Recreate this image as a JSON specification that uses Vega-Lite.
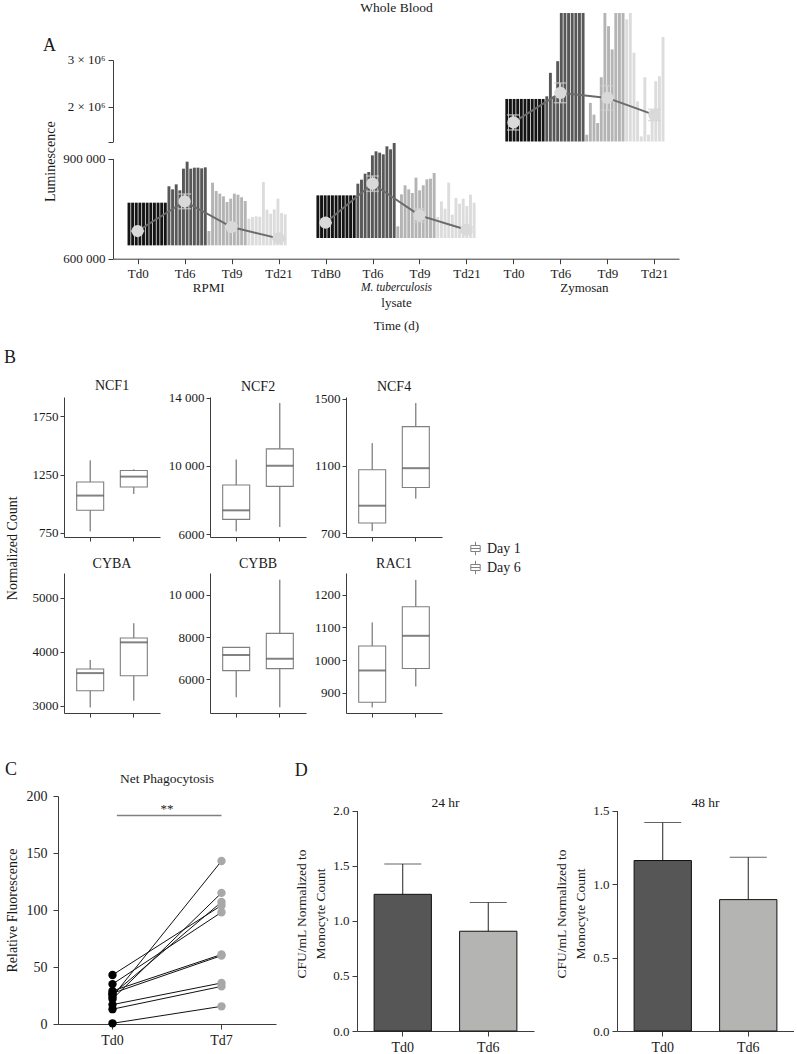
{
"$schema":"https://vega.github.io/schema/vega-lite/v6.json",
"background":"white",
"padding":{"left":4,"top":1,"right":0,"bottom":0},
"config":{
 "font":"Liberation Serif",
 "view":{"stroke":null},
 "axis":{"grid":false,"labelFont":"Liberation Serif","titleFont":"Liberation Serif","labelFontSize":13,"titleFontSize":13.5,"titleFontWeight":"normal","labelColor":"#1a1a1a","titleColor":"#1a1a1a","domainColor":"#3c3c3c","tickColor":"#3c3c3c","labelAngle":0,"tickSize":5,"labelPadding":3,"labelOverlap":false,"labelSeparation":-300},
 "style":{"guide-label":{"font":"Liberation Serif"},"guide-title":{"font":"Liberation Serif"},"group-title":{"font":"Liberation Serif"}},
 "title":{"font":"Liberation Serif","fontWeight":"normal","fontSize":13.5,"color":"#1a1a1a"},
 "legend":{"labelFont":"Liberation Serif","labelFontSize":14,"labelColor":"#1a1a1a"},
 "text":{"font":"Liberation Serif","color":"#1a1a1a"}
},
"resolve":{"scale":{"color":"independent","fill":"independent","stroke":"independent"}},
"datasets":{
 "bars":[
  {"g":"RPMI","t":"Td0","s":"R01","v":768000,"base":640000},{"g":"RPMI","t":"Td0","s":"R02","v":768000,"base":640000},{"g":"RPMI","t":"Td0","s":"R03","v":768000,"base":640000},{"g":"RPMI","t":"Td0","s":"R04","v":768000,"base":640000},{"g":"RPMI","t":"Td0","s":"R05","v":768000,"base":640000},{"g":"RPMI","t":"Td0","s":"R06","v":768000,"base":640000},{"g":"RPMI","t":"Td0","s":"R07","v":768000,"base":640000},{"g":"RPMI","t":"Td0","s":"R08","v":768000,"base":640000},{"g":"RPMI","t":"Td0","s":"R09","v":768000,"base":640000},{"g":"RPMI","t":"Td0","s":"R10","v":768000,"base":640000},{"g":"RPMI","t":"Td0","s":"R11","v":768000,"base":640000},
  {"g":"RPMI","t":"Td6","s":"R12","v":817000,"base":640000},{"g":"RPMI","t":"Td6","s":"R13","v":808000,"base":640000},{"g":"RPMI","t":"Td6","s":"R14","v":823000,"base":640000},{"g":"RPMI","t":"Td6","s":"R15","v":805000,"base":640000},{"g":"RPMI","t":"Td6","s":"R16","v":870000,"base":640000},{"g":"RPMI","t":"Td6","s":"R17","v":891000,"base":640000},{"g":"RPMI","t":"Td6","s":"R18","v":870000,"base":640000},{"g":"RPMI","t":"Td6","s":"R19","v":873000,"base":640000},{"g":"RPMI","t":"Td6","s":"R20","v":873000,"base":640000},{"g":"RPMI","t":"Td6","s":"R21","v":871000,"base":640000},{"g":"RPMI","t":"Td6","s":"R22","v":874000,"base":640000},
  {"g":"RPMI","t":"Td9","s":"R23","v":683000,"base":640000},{"g":"RPMI","t":"Td9","s":"R24","v":828000,"base":640000},{"g":"RPMI","t":"Td9","s":"R25","v":803000,"base":640000},{"g":"RPMI","t":"Td9","s":"R26","v":795000,"base":640000},{"g":"RPMI","t":"Td9","s":"R27","v":787000,"base":640000},{"g":"RPMI","t":"Td9","s":"R28","v":770000,"base":640000},{"g":"RPMI","t":"Td9","s":"R29","v":780000,"base":640000},{"g":"RPMI","t":"Td9","s":"R30","v":795000,"base":640000},{"g":"RPMI","t":"Td9","s":"R31","v":792000,"base":640000},{"g":"RPMI","t":"Td9","s":"R32","v":784000,"base":640000},{"g":"RPMI","t":"Td9","s":"R33","v":773000,"base":640000},
  {"g":"RPMI","t":"Td21","s":"R34","v":720000,"base":640000},{"g":"RPMI","t":"Td21","s":"R35","v":725000,"base":640000},{"g":"RPMI","t":"Td21","s":"R36","v":727000,"base":640000},{"g":"RPMI","t":"Td21","s":"R37","v":726000,"base":640000},{"g":"RPMI","t":"Td21","s":"R38","v":830000,"base":640000},{"g":"RPMI","t":"Td21","s":"R39","v":747000,"base":640000},{"g":"RPMI","t":"Td21","s":"R40","v":735000,"base":640000},{"g":"RPMI","t":"Td21","s":"R41","v":748000,"base":640000},{"g":"RPMI","t":"Td21","s":"R42","v":780000,"base":640000},{"g":"RPMI","t":"Td21","s":"R43","v":737000,"base":640000},{"g":"RPMI","t":"Td21","s":"R44","v":733000,"base":640000},
  {"g":"Mtb","t":"TdB0","s":"M01","v":790000,"base":662000},{"g":"Mtb","t":"TdB0","s":"M02","v":790000,"base":662000},{"g":"Mtb","t":"TdB0","s":"M03","v":790000,"base":662000},{"g":"Mtb","t":"TdB0","s":"M04","v":790000,"base":662000},{"g":"Mtb","t":"TdB0","s":"M05","v":790000,"base":662000},{"g":"Mtb","t":"TdB0","s":"M06","v":790000,"base":662000},{"g":"Mtb","t":"TdB0","s":"M07","v":790000,"base":662000},{"g":"Mtb","t":"TdB0","s":"M08","v":790000,"base":662000},{"g":"Mtb","t":"TdB0","s":"M09","v":790000,"base":662000},{"g":"Mtb","t":"TdB0","s":"M10","v":790000,"base":662000},{"g":"Mtb","t":"TdB0","s":"M11","v":790000,"base":662000},
  {"g":"Mtb","t":"Td6","s":"M12","v":825000,"base":662000},{"g":"Mtb","t":"Td6","s":"M13","v":837000,"base":662000},{"g":"Mtb","t":"Td6","s":"M14","v":855000,"base":662000},{"g":"Mtb","t":"Td6","s":"M15","v":860000,"base":662000},{"g":"Mtb","t":"Td6","s":"M16","v":910000,"base":662000},{"g":"Mtb","t":"Td6","s":"M17","v":922000,"base":662000},{"g":"Mtb","t":"Td6","s":"M18","v":918000,"base":662000},{"g":"Mtb","t":"Td6","s":"M19","v":913000,"base":662000},{"g":"Mtb","t":"Td6","s":"M20","v":937000,"base":662000},{"g":"Mtb","t":"Td6","s":"M21","v":928000,"base":662000},{"g":"Mtb","t":"Td6","s":"M22","v":947000,"base":662000},
  {"g":"Mtb","t":"Td9","s":"M23","v":697000,"base":662000},{"g":"Mtb","t":"Td9","s":"M24","v":793000,"base":662000},{"g":"Mtb","t":"Td9","s":"M25","v":820000,"base":662000},{"g":"Mtb","t":"Td9","s":"M26","v":808000,"base":662000},{"g":"Mtb","t":"Td9","s":"M27","v":797000,"base":662000},{"g":"Mtb","t":"Td9","s":"M28","v":843000,"base":662000},{"g":"Mtb","t":"Td9","s":"M29","v":805000,"base":662000},{"g":"Mtb","t":"Td9","s":"M30","v":820000,"base":662000},{"g":"Mtb","t":"Td9","s":"M31","v":838000,"base":662000},{"g":"Mtb","t":"Td9","s":"M32","v":840000,"base":662000},{"g":"Mtb","t":"Td9","s":"M33","v":857000,"base":662000},
  {"g":"Mtb","t":"Td21","s":"M34","v":725000,"base":662000},{"g":"Mtb","t":"Td21","s":"M35","v":772000,"base":662000},{"g":"Mtb","t":"Td21","s":"M36","v":750000,"base":662000},{"g":"Mtb","t":"Td21","s":"M37","v":828000,"base":662000},{"g":"Mtb","t":"Td21","s":"M38","v":732000,"base":662000},{"g":"Mtb","t":"Td21","s":"M39","v":782000,"base":662000},{"g":"Mtb","t":"Td21","s":"M40","v":765000,"base":662000},{"g":"Mtb","t":"Td21","s":"M41","v":780000,"base":662000},{"g":"Mtb","t":"Td21","s":"M42","v":758000,"base":662000},{"g":"Mtb","t":"Td21","s":"M43","v":792000,"base":662000},{"g":"Mtb","t":"Td21","s":"M44","v":768000,"base":662000},
  {"g":"Zym","t":"Td0","s":"Z01","v":2335000,"base":1882000},{"g":"Zym","t":"Td0","s":"Z02","v":2335000,"base":1882000},{"g":"Zym","t":"Td0","s":"Z03","v":2335000,"base":1882000},{"g":"Zym","t":"Td0","s":"Z04","v":2335000,"base":1882000},{"g":"Zym","t":"Td0","s":"Z05","v":2335000,"base":1882000},{"g":"Zym","t":"Td0","s":"Z06","v":2335000,"base":1882000},{"g":"Zym","t":"Td0","s":"Z07","v":2335000,"base":1882000},{"g":"Zym","t":"Td0","s":"Z08","v":2335000,"base":1882000},{"g":"Zym","t":"Td0","s":"Z09","v":2335000,"base":1882000},{"g":"Zym","t":"Td0","s":"Z10","v":2335000,"base":1882000},{"g":"Zym","t":"Td0","s":"Z11","v":2335000,"base":1882000},
  {"g":"Zym","t":"Td6","s":"Z12","v":2363000,"base":1882000},{"g":"Zym","t":"Td6","s":"Z13","v":2613000,"base":1882000},{"g":"Zym","t":"Td6","s":"Z14","v":2363000,"base":1882000},{"g":"Zym","t":"Td6","s":"Z15","v":2737000,"base":1882000},{"g":"Zym","t":"Td6","s":"Z16","v":3250000,"base":1882000},{"g":"Zym","t":"Td6","s":"Z17","v":3250000,"base":1882000},{"g":"Zym","t":"Td6","s":"Z18","v":3250000,"base":1882000},{"g":"Zym","t":"Td6","s":"Z19","v":3250000,"base":1882000},{"g":"Zym","t":"Td6","s":"Z20","v":3250000,"base":1882000},{"g":"Zym","t":"Td6","s":"Z21","v":3250000,"base":1882000},{"g":"Zym","t":"Td6","s":"Z22","v":3250000,"base":1882000},
  {"g":"Zym","t":"Td9","s":"Z23","v":1954000,"base":1882000},{"g":"Zym","t":"Td9","s":"Z24","v":2293000,"base":1882000},{"g":"Zym","t":"Td9","s":"Z25","v":2168000,"base":1882000},{"g":"Zym","t":"Td9","s":"Z26","v":2079000,"base":1882000},{"g":"Zym","t":"Td9","s":"Z27","v":2566000,"base":1882000},{"g":"Zym","t":"Td9","s":"Z28","v":3250000,"base":1882000},{"g":"Zym","t":"Td9","s":"Z29","v":3110000,"base":1882000},{"g":"Zym","t":"Td9","s":"Z30","v":2862000,"base":1882000},{"g":"Zym","t":"Td9","s":"Z31","v":3250000,"base":1882000},{"g":"Zym","t":"Td9","s":"Z32","v":3250000,"base":1882000},{"g":"Zym","t":"Td9","s":"Z33","v":3250000,"base":1882000},
  {"g":"Zym","t":"Td21","s":"Z34","v":3183000,"base":1882000},{"g":"Zym","t":"Td21","s":"Z35","v":3250000,"base":1882000},{"g":"Zym","t":"Td21","s":"Z36","v":2827000,"base":1882000},{"g":"Zym","t":"Td21","s":"Z37","v":2310000,"base":1882000},{"g":"Zym","t":"Td21","s":"Z38","v":1936000,"base":1882000},{"g":"Zym","t":"Td21","s":"Z39","v":2566000,"base":1882000},{"g":"Zym","t":"Td21","s":"Z40","v":1954000,"base":1882000},{"g":"Zym","t":"Td21","s":"Z41","v":2168000,"base":1882000},{"g":"Zym","t":"Td21","s":"Z42","v":2524000,"base":1882000},{"g":"Zym","t":"Td21","s":"Z43","v":2577000,"base":1882000},{"g":"Zym","t":"Td21","s":"Z44","v":2994000,"base":1882000}
 ],
 "means":[
  {"k":"RPMI|Td0","g":"RPMI","i":1,"m":683000,"lo":683000,"hi":683000},
  {"k":"RPMI|Td6","g":"RPMI","i":2,"m":772000,"lo":750000,"hi":794000},
  {"k":"RPMI|Td9","g":"RPMI","i":3,"m":695000,"lo":690000,"hi":700000},
  {"k":"RPMI|Td21","g":"RPMI","i":4,"m":661000,"lo":658000,"hi":664000},
  {"k":"Mtb|TdB0","g":"Mtb","i":1,"m":708000,"lo":708000,"hi":708000},
  {"k":"Mtb|Td6","g":"Mtb","i":2,"m":825000,"lo":802000,"hi":848000},
  {"k":"Mtb|Td9","g":"Mtb","i":3,"m":730000,"lo":710000,"hi":750000},
  {"k":"Mtb|Td21","g":"Mtb","i":4,"m":687000,"lo":680000,"hi":694000},
  {"k":"Zym|Td0","g":"Zym","i":1,"m":2085000,"lo":2005000,"hi":2165000},
  {"k":"Zym|Td6","g":"Zym","i":2,"m":2400000,"lo":2295000,"hi":2505000},
  {"k":"Zym|Td9","g":"Zym","i":3,"m":2346000,"lo":2215000,"hi":2475000},
  {"k":"Zym|Td21","g":"Zym","i":4,"m":2165000,"lo":2105000,"hi":2225000}
 ],
 "boxes":[
  {"gene":"NCF1","day":"Day 1","lo":761,"q1":943,"med":1069,"q3":1186,"hi":1372},
  {"gene":"NCF1","day":"Day 6","lo":1083,"q1":1143,"med":1232,"q3":1284,"hi":1294},
  {"gene":"NCF2","day":"Day 1","lo":6156,"q1":6860,"med":7389,"q3":8875,"hi":10372},
  {"gene":"NCF2","day":"Day 6","lo":6411,"q1":8797,"med":10000,"q3":10998,"hi":13687},
  {"gene":"NCF4","day":"Day 1","lo":713,"q1":761,"med":864,"q3":1078,"hi":1236},
  {"gene":"NCF4","day":"Day 6","lo":906,"q1":972,"med":1087,"q3":1334,"hi":1474},
  {"gene":"CYBA","day":"Day 1","lo":2967,"q1":3277,"med":3605,"q3":3680,"hi":3850},
  {"gene":"CYBA","day":"Day 6","lo":3093,"q1":3557,"med":4176,"q3":4257,"hi":4531},
  {"gene":"CYBB","day":"Day 1","lo":5150,"q1":6409,"med":7150,"q3":7512,"hi":7512},
  {"gene":"CYBB","day":"Day 6","lo":4677,"q1":6504,"med":6976,"q3":8173,"hi":10709},
  {"gene":"RAC1","day":"Day 1","lo":855,"q1":871,"med":968,"q3":1043,"hi":1115},
  {"gene":"RAC1","day":"Day 6","lo":919,"q1":974,"med":1074,"q3":1163,"hi":1245}
 ],
 "phago":[
  {"id":1,"t":"Td0","v":0.6},{"id":1,"t":"Td7","v":15.5},
  {"id":2,"t":"Td0","v":13},{"id":2,"t":"Td7","v":33},
  {"id":3,"t":"Td0","v":17},{"id":3,"t":"Td7","v":36},
  {"id":4,"t":"Td0","v":27},{"id":4,"t":"Td7","v":60},
  {"id":5,"t":"Td0","v":29},{"id":5,"t":"Td7","v":61},
  {"id":6,"t":"Td0","v":24},{"id":6,"t":"Td7","v":143},
  {"id":7,"t":"Td0","v":22},{"id":7,"t":"Td7","v":115},
  {"id":8,"t":"Td0","v":26},{"id":8,"t":"Td7","v":107},
  {"id":9,"t":"Td0","v":43},{"id":9,"t":"Td7","v":104},
  {"id":10,"t":"Td0","v":35},{"id":10,"t":"Td7","v":98}
 ],
 "cfu":[
  {"p":"24 hr","t":"Td0","m":1.24,"hi":1.515},
  {"p":"24 hr","t":"Td6","m":0.905,"hi":1.165},
  {"p":"48 hr","t":"Td0","m":1.16,"hi":1.418},
  {"p":"48 hr","t":"Td6","m":0.894,"hi":1.182}
 ]
},
"spacing":42,
"vconcat":[
 {"spacing":16,"vconcat":[
  {"title":{"text":"Whole Blood","anchor":"middle","dx":55,"offset":-1.5,"fontSize":13.5},
   "spacing":38,
   "hconcat":[
    {"width":1,"height":1,"data":{"values":[{}]},"mark":{"type":"point","size":0,"opacity":0}},
    {"title":{"text":"A","anchor":"start","frame":"bounds","fontSize":18,"offset":-42},
     "spacing":-3.5,"bounds":"flush",
     "vconcat":[
      {"width":566,"height":128.5,
       "resolve":{"scale":{"x":"independent"},"axis":{"x":"independent"}},
       "encoding":{"x":{"field":"k","type":"nominal","scale":{"type":"point","domain":["RPMI|Td0","RPMI|Td6","RPMI|Td9","RPMI|Td21","Mtb|TdB0","Mtb|Td6","Mtb|Td9","Mtb|Td21","Zym|Td0","Zym|Td6","Zym|Td9","Zym|Td21"],"padding":0.525},"axis":null}},
       "layer":[
        {"data":{"name":"bars"},"transform":[{"filter":"datum.g == 'Zym'"}],
         "mark":{"type":"bar"},
         "encoding":{
          "x":{"field":"s","type":"nominal","scale":{"domain":["a1","a2","a3","a4","R01","R02","R03","R04","R05","R06","R07","R08","R09","R10","R11","R12","R13","R14","R15","R16","R17","R18","R19","R20","R21","R22","R23","R24","R25","R26","R27","R28","R29","R30","R31","R32","R33","R34","R35","R36","R37","R38","R39","R40","R41","R42","R43","R44","x1","x2","x3","x4","x5","x6","x7","x8","M01","M02","M03","M04","M05","M06","M07","M08","M09","M10","M11","M12","M13","M14","M15","M16","M17","M18","M19","M20","M21","M22","M23","M24","M25","M26","M27","M28","M29","M30","M31","M32","M33","M34","M35","M36","M37","M38","M39","M40","M41","M42","M43","M44","y1","y2","y3","y4","y5","y6","y7","y8","Z01","Z02","Z03","Z04","Z05","Z06","Z07","Z08","Z09","Z10","Z11","Z12","Z13","Z14","Z15","Z16","Z17","Z18","Z19","Z20","Z21","Z22","Z23","Z24","Z25","Z26","Z27","Z28","Z29","Z30","Z31","Z32","Z33","Z34","Z35","Z36","Z37","Z38","Z39","Z40","Z41","Z42","Z43","Z44","b1","b2","b3","b4"],"paddingInner":0.2,"paddingOuter":0},"axis":null},
          "y":{"field":"v","type":"quantitative","scale":{"domain":[1882000,3250000],"zero":false,"nice":false},
               "axis":{"title":null,"values":[1882000,2000000,2250000,2500000,2750000],"labelOverlap":false,"labelSeparation":-300,
                       "labelExpr":"datum.value < 1900000 ? '' : format(datum.value/1000000, '.0f') + ' × 10⁶'",
                       "domainDash":[81.5,200]}},
          "y2":{"field":"base"},
          "color":{"field":"t","type":"nominal","scale":{"domain":["Td0","TdB0","Td6","Td9","Td21"],"range":["#141414","#141414","#585858","#b4b4b4","#dcdcdc"]},"legend":null}
         }},
        {"data":{"name":"means"},"transform":[{"filter":"datum.g == 'Zym'"}],"mark":{"type":"rule","color":"#d0d0d0","strokeWidth":1.5},"encoding":{"y":{"field":"lo","type":"quantitative"},"y2":{"field":"hi"}}},
        {"data":{"name":"means"},"transform":[{"filter":"datum.g == 'Zym'"}],"mark":{"type":"tick","color":"#d0d0d0","size":13,"thickness":1.5},"encoding":{"y":{"field":"lo","type":"quantitative"}}},
        {"data":{"name":"means"},"transform":[{"filter":"datum.g == 'Zym'"}],"mark":{"type":"tick","color":"#d0d0d0","size":13,"thickness":1.5},"encoding":{"y":{"field":"hi","type":"quantitative"}}},
        {"data":{"name":"means"},"transform":[{"filter":"datum.g == 'Zym'"}],"mark":{"type":"line","color":"#6b6b6b","strokeWidth":2},"encoding":{"y":{"field":"m","type":"quantitative"},"detail":{"field":"g"},"order":{"field":"i"}}},
        {"data":{"name":"means"},"transform":[{"filter":"datum.g == 'Zym'"}],"mark":{"type":"circle","color":"#d9d9d9","opacity":1,"size":150},"encoding":{"y":{"field":"m","type":"quantitative"}}}
       ]},
      {"width":566,"height":116.7,
       "resolve":{"scale":{"x":"independent"},"axis":{"x":"independent"}},
       "encoding":{"x":{"field":"k","type":"nominal","scale":{"type":"point","domain":["RPMI|Td0","RPMI|Td6","RPMI|Td9","RPMI|Td21","Mtb|TdB0","Mtb|Td6","Mtb|Td9","Mtb|Td21","Zym|Td0","Zym|Td6","Zym|Td9","Zym|Td21"],"padding":0.525},"axis":null}},
       "layer":[
        {"data":{"name":"bars"},"transform":[{"filter":"datum.g != 'Zym'"}],
         "mark":{"type":"bar"},
         "encoding":{
          "x":{"field":"s","type":"nominal","scale":{"domain":["a1","a2","a3","a4","R01","R02","R03","R04","R05","R06","R07","R08","R09","R10","R11","R12","R13","R14","R15","R16","R17","R18","R19","R20","R21","R22","R23","R24","R25","R26","R27","R28","R29","R30","R31","R32","R33","R34","R35","R36","R37","R38","R39","R40","R41","R42","R43","R44","x1","x2","x3","x4","x5","x6","x7","x8","M01","M02","M03","M04","M05","M06","M07","M08","M09","M10","M11","M12","M13","M14","M15","M16","M17","M18","M19","M20","M21","M22","M23","M24","M25","M26","M27","M28","M29","M30","M31","M32","M33","M34","M35","M36","M37","M38","M39","M40","M41","M42","M43","M44","y1","y2","y3","y4","y5","y6","y7","y8","Z01","Z02","Z03","Z04","Z05","Z06","Z07","Z08","Z09","Z10","Z11","Z12","Z13","Z14","Z15","Z16","Z17","Z18","Z19","Z20","Z21","Z22","Z23","Z24","Z25","Z26","Z27","Z28","Z29","Z30","Z31","Z32","Z33","Z34","Z35","Z36","Z37","Z38","Z39","Z40","Z41","Z42","Z43","Z44","b1","b2","b3","b4"],"paddingInner":0.2,"paddingOuter":0},"axis":null},
          "y":{"field":"v","type":"quantitative","scale":{"domain":[600000,950000],"zero":false,"nice":false},
               "axis":{"title":"Luminescence","titleFontSize":14,"titleX":-63,"titleY":19.2,"titleBaseline":"middle","titleAlign":"center",
                       "values":[600000,700000,800000,900000],"labelOverlap":false,"labelSeparation":-300,
                       "labelExpr":"replace(format(datum.value, ','), ',', ' ')",
                       "domainDash":[100,40]}},
          "y2":{"field":"base"},
          "color":{"field":"t","type":"nominal","scale":{"domain":["Td0","TdB0","Td6","Td9","Td21"],"range":["#141414","#141414","#585858","#b4b4b4","#dcdcdc"]},"legend":null}
         }},
        {"data":{"name":"means"},"transform":[{"filter":"datum.g != 'Zym'"}],"mark":{"type":"rule","color":"#d0d0d0","strokeWidth":1.5},"encoding":{"y":{"field":"lo","type":"quantitative"},"y2":{"field":"hi"}}},
        {"data":{"name":"means"},"transform":[{"filter":"datum.g != 'Zym'"}],"mark":{"type":"tick","color":"#d0d0d0","size":13,"thickness":1.5},"encoding":{"y":{"field":"lo","type":"quantitative"}}},
        {"data":{"name":"means"},"transform":[{"filter":"datum.g != 'Zym'"}],"mark":{"type":"tick","color":"#d0d0d0","size":13,"thickness":1.5},"encoding":{"y":{"field":"hi","type":"quantitative"}}},
        {"data":{"name":"means"},"transform":[{"filter":"datum.g != 'Zym'"}],"mark":{"type":"line","color":"#6b6b6b","strokeWidth":2},"encoding":{"y":{"field":"m","type":"quantitative"},"detail":{"field":"g"},"order":{"field":"i"}}},
        {"data":{"name":"means"},"transform":[{"filter":"datum.g != 'Zym'"}],"mark":{"type":"circle","color":"#d9d9d9","opacity":1,"size":150},
         "encoding":{"y":{"field":"m","type":"quantitative"},
          "x":{"field":"k","type":"nominal","scale":{"type":"point","domain":["RPMI|Td0","RPMI|Td6","RPMI|Td9","RPMI|Td21","Mtb|TdB0","Mtb|Td6","Mtb|Td9","Mtb|Td21","Zym|Td0","Zym|Td6","Zym|Td9","Zym|Td21"],"padding":0.525},
               "axis":{"title":null,"orient":"bottom","labelExpr":"split(datum.label, '|')[1]","labelPadding":4}}}},
        {"data":{"name":"means"},"transform":[{"filter":"datum.g != 'Zym'"}],"mark":{"type":"point","opacity":0},
         "encoding":{"y":{"field":"m","type":"quantitative"},
          "x":{"field":"k","type":"nominal","scale":{"type":"point","domain":["RPMI|Td0","RPMI|Td6","RPMI|Td9","RPMI|Td21","Mtb|TdB0","Mtb|Td6","Mtb|Td9","Mtb|Td21","Zym|Td0","Zym|Td6","Zym|Td9","Zym|Td21"],"padding":0.525},
               "axis":{"orient":"bottom","values":["RPMI|Td6","Mtb|Td6","Zym|Td6"],
                       "labelExpr":"datum.value == 'RPMI|Td6' ? 'RPMI' : (datum.value == 'Mtb|Td6' ? 'M. tuberculosis' : 'Zymosan')",
                       "labelOffset":23.5,"offset":19,"ticks":false,"domain":false,"title":null,"labelPadding":4,
                       "labelFontStyle":{"condition":{"test":"datum.value == 'Mtb|Td6'","value":"italic"},"value":"normal"},
                       "labelFontSize":{"condition":{"test":"datum.value == 'Mtb|Td6'","value":11.5},"value":13}}}}},
        {"data":{"name":"means"},"transform":[{"filter":"datum.g != 'Zym'"}],"mark":{"type":"point","opacity":0},
         "encoding":{"y":{"field":"m","type":"quantitative"},
          "x":{"field":"k","type":"nominal","scale":{"type":"point","domain":["RPMI|Td0","RPMI|Td6","RPMI|Td9","RPMI|Td21","Mtb|TdB0","Mtb|Td6","Mtb|Td9","Mtb|Td21","Zym|Td0","Zym|Td6","Zym|Td9","Zym|Td21"],"padding":0.525},
               "axis":{"orient":"bottom","values":["Mtb|Td6"],"labelExpr":"'lysate'",
                       "labelOffset":23.5,"offset":34,"ticks":false,"domain":false,"labelPadding":4,
                       "title":"Time (d)","titleFontSize":13,"titlePadding":10}}}}
       ]}
     ]}
   ]},
  {"title":{"text":"B","anchor":"start","fontSize":18,"offset":12},
   "spacing":0,
   "hconcat":[
    {"width":1,"height":1,"data":{"values":[{}]},"mark":{"type":"point","size":0,"opacity":0}},
    {"data":{"name":"boxes"},"columns":3,"spacing":{"row":15,"column":8},
     "title":{"text":"Normalized Count","orient":"left","anchor":"middle","fontSize":14,"offset":12},
     "resolve":{"scale":{"x":"independent","y":"independent","stroke":"shared"},"legend":{"stroke":"shared"}},
     "concat":[
      {"width":96,"height":140,"title":{"text":"NCF1","fontSize":14,"offset":4},
       "transform":[{"filter":"datum.gene == 'NCF1'"}],
       "encoding":{"x":{"field":"day","type":"nominal","scale":{"domain":["Day 1","Day 6"],"paddingInner":0,"paddingOuter":0.1},"axis":{"labels":false,"title":null,"tickSize":4}}},
       "layer":[
        {"mark":{"type":"rule","color":"#595959","strokeWidth":1},"encoding":{"y":{"field":"lo","type":"quantitative","scale":{"domain":[713,1916],"nice":false,"zero":false},"axis":{"title":null,"values":[750,1000,1250,1500,1750],"labelOverlap":false,"labelSeparation":-300,"labelExpr":"datum.value >= 10000 ? replace(format(datum.value, ','), ',', ' ') : format(datum.value, 'd')","tickSize":4,"labelPadding":2}},"y2":{"field":"hi"}}},
        {"mark":{"type":"bar","fill":"white","strokeWidth":1.1,"size":27},"encoding":{"y":{"field":"q1","type":"quantitative"},"y2":{"field":"q3"},"stroke":{"field":"day","type":"nominal","scale":{"domain":["Day 1","Day 6"],"range":["#7f7f7f","#7f7f7f"]},"legend":{"title":null,"orient":"none","legendX":464,"legendY":528,"symbolType":"M-0.7,-0.45H0.7V0.45H-0.7Z M-0.7,0H0.7 M0,-0.45V-1 M0,0.45V1","symbolSize":180,"symbolFillColor":"#f2f2f2","symbolStrokeWidth":1,"rowPadding":0}}}},
        {"mark":{"type":"tick","color":"#4d4d4d","size":27,"thickness":2},"encoding":{"y":{"field":"med","type":"quantitative"}}}
       ]},
      {"width":96,"height":140,"title":{"text":"NCF2","fontSize":14,"offset":-2},
       "transform":[{"filter":"datum.gene == 'NCF2'"}],
       "encoding":{"x":{"field":"day","type":"nominal","scale":{"domain":["Day 1","Day 6"],"paddingInner":0,"paddingOuter":0.1},"axis":{"labels":false,"title":null,"tickSize":4}}},
       "layer":[
        {"mark":{"type":"rule","color":"#595959","strokeWidth":1},"encoding":{"y":{"field":"lo","type":"quantitative","scale":{"domain":[5824,14040],"nice":false,"zero":false},"axis":{"title":null,"values":[6000,8000,10000,12000,14000],"labelOverlap":false,"labelSeparation":-300,"labelExpr":"datum.value >= 10000 ? replace(format(datum.value, ','), ',', ' ') : format(datum.value, 'd')","tickSize":4,"labelPadding":2}},"y2":{"field":"hi"}}},
        {"mark":{"type":"bar","fill":"white","strokeWidth":1.1,"size":27},"encoding":{"y":{"field":"q1","type":"quantitative"},"y2":{"field":"q3"},"stroke":{"field":"day","type":"nominal","scale":{"domain":["Day 1","Day 6"],"range":["#7f7f7f","#7f7f7f"]},"legend":{"title":null,"orient":"none","legendX":464,"legendY":528,"symbolType":"M-0.7,-0.45H0.7V0.45H-0.7Z M-0.7,0H0.7 M0,-0.45V-1 M0,0.45V1","symbolSize":180,"symbolFillColor":"#f2f2f2","symbolStrokeWidth":1,"rowPadding":0}}}},
        {"mark":{"type":"tick","color":"#4d4d4d","size":27,"thickness":2},"encoding":{"y":{"field":"med","type":"quantitative"}}}
       ]},
      {"width":96,"height":140,"title":{"text":"NCF4","fontSize":14,"offset":-1},
       "transform":[{"filter":"datum.gene == 'NCF4'"}],
       "encoding":{"x":{"field":"day","type":"nominal","scale":{"domain":["Day 1","Day 6"],"paddingInner":0,"paddingOuter":0.1},"axis":{"labels":false,"title":null,"tickSize":4}}},
       "layer":[
        {"mark":{"type":"rule","color":"#595959","strokeWidth":1},"encoding":{"y":{"field":"lo","type":"quantitative","scale":{"domain":[678,1510],"nice":false,"zero":false},"axis":{"title":null,"values":[700,900,1100,1300,1500],"labelOverlap":false,"labelSeparation":-300,"labelExpr":"datum.value >= 10000 ? replace(format(datum.value, ','), ',', ' ') : format(datum.value, 'd')","tickSize":4,"labelPadding":2}},"y2":{"field":"hi"}}},
        {"mark":{"type":"bar","fill":"white","strokeWidth":1.1,"size":27},"encoding":{"y":{"field":"q1","type":"quantitative"},"y2":{"field":"q3"},"stroke":{"field":"day","type":"nominal","scale":{"domain":["Day 1","Day 6"],"range":["#7f7f7f","#7f7f7f"]},"legend":{"title":null,"orient":"none","legendX":464,"legendY":528,"symbolType":"M-0.7,-0.45H0.7V0.45H-0.7Z M-0.7,0H0.7 M0,-0.45V-1 M0,0.45V1","symbolSize":180,"symbolFillColor":"#f2f2f2","symbolStrokeWidth":1,"rowPadding":0}}}},
        {"mark":{"type":"tick","color":"#4d4d4d","size":27,"thickness":2},"encoding":{"y":{"field":"med","type":"quantitative"}}}
       ]},
      {"width":96,"height":140,"title":{"text":"CYBA","fontSize":14,"offset":2},
       "transform":[{"filter":"datum.gene == 'CYBA'"}],
       "encoding":{"x":{"field":"day","type":"nominal","scale":{"domain":["Day 1","Day 6"],"paddingInner":0,"paddingOuter":0.1},"axis":{"labels":false,"title":null,"tickSize":4}}},
       "layer":[
        {"mark":{"type":"rule","color":"#595959","strokeWidth":1},"encoding":{"y":{"field":"lo","type":"quantitative","scale":{"domain":[2864,5464],"nice":false,"zero":false},"axis":{"title":null,"values":[3000,3500,4000,4500,5000],"labelOverlap":false,"labelSeparation":-300,"labelExpr":"datum.value >= 10000 ? replace(format(datum.value, ','), ',', ' ') : format(datum.value, 'd')","tickSize":4,"labelPadding":2}},"y2":{"field":"hi"}}},
        {"mark":{"type":"bar","fill":"white","strokeWidth":1.1,"size":27},"encoding":{"y":{"field":"q1","type":"quantitative"},"y2":{"field":"q3"},"stroke":{"field":"day","type":"nominal","scale":{"domain":["Day 1","Day 6"],"range":["#7f7f7f","#7f7f7f"]},"legend":{"title":null,"orient":"none","legendX":464,"legendY":528,"symbolType":"M-0.7,-0.45H0.7V0.45H-0.7Z M-0.7,0H0.7 M0,-0.45V-1 M0,0.45V1","symbolSize":180,"symbolFillColor":"#f2f2f2","symbolStrokeWidth":1,"rowPadding":0}}}},
        {"mark":{"type":"tick","color":"#4d4d4d","size":27,"thickness":2},"encoding":{"y":{"field":"med","type":"quantitative"}}}
       ]},
      {"width":96,"height":140,"title":{"text":"CYBB","fontSize":14,"offset":2},
       "transform":[{"filter":"datum.gene == 'CYBB'"}],
       "encoding":{"x":{"field":"day","type":"nominal","scale":{"domain":["Day 1","Day 6"],"paddingInner":0,"paddingOuter":0.1},"axis":{"labels":false,"title":null,"tickSize":4}}},
       "layer":[
        {"mark":{"type":"rule","color":"#595959","strokeWidth":1},"encoding":{"y":{"field":"lo","type":"quantitative","scale":{"domain":[4409,11024],"nice":false,"zero":false},"axis":{"title":null,"values":[6000,8000,10000],"labelOverlap":false,"labelSeparation":-300,"labelExpr":"datum.value >= 10000 ? replace(format(datum.value, ','), ',', ' ') : format(datum.value, 'd')","tickSize":4,"labelPadding":2}},"y2":{"field":"hi"}}},
        {"mark":{"type":"bar","fill":"white","strokeWidth":1.1,"size":27},"encoding":{"y":{"field":"q1","type":"quantitative"},"y2":{"field":"q3"},"stroke":{"field":"day","type":"nominal","scale":{"domain":["Day 1","Day 6"],"range":["#7f7f7f","#7f7f7f"]},"legend":{"title":null,"orient":"none","legendX":464,"legendY":528,"symbolType":"M-0.7,-0.45H0.7V0.45H-0.7Z M-0.7,0H0.7 M0,-0.45V-1 M0,0.45V1","symbolSize":180,"symbolFillColor":"#f2f2f2","symbolStrokeWidth":1,"rowPadding":0}}}},
        {"mark":{"type":"tick","color":"#4d4d4d","size":27,"thickness":2},"encoding":{"y":{"field":"med","type":"quantitative"}}}
       ]},
      {"width":96,"height":140,"title":{"text":"RAC1","fontSize":14,"offset":2},
       "transform":[{"filter":"datum.gene == 'RAC1'"}],
       "encoding":{"x":{"field":"day","type":"nominal","scale":{"domain":["Day 1","Day 6"],"paddingInner":0,"paddingOuter":0.1},"axis":{"labels":false,"title":null,"tickSize":4}}},
       "layer":[
        {"mark":{"type":"rule","color":"#595959","strokeWidth":1},"encoding":{"y":{"field":"lo","type":"quantitative","scale":{"domain":[838,1266],"nice":false,"zero":false},"axis":{"title":null,"values":[900,1000,1100,1200],"labelOverlap":false,"labelSeparation":-300,"labelExpr":"datum.value >= 10000 ? replace(format(datum.value, ','), ',', ' ') : format(datum.value, 'd')","tickSize":4,"labelPadding":2}},"y2":{"field":"hi"}}},
        {"mark":{"type":"bar","fill":"white","strokeWidth":1.1,"size":27},"encoding":{"y":{"field":"q1","type":"quantitative"},"y2":{"field":"q3"},"stroke":{"field":"day","type":"nominal","scale":{"domain":["Day 1","Day 6"],"range":["#7f7f7f","#7f7f7f"]},"legend":{"title":null,"orient":"none","legendX":464,"legendY":528,"symbolType":"M-0.7,-0.45H0.7V0.45H-0.7Z M-0.7,0H0.7 M0,-0.45V-1 M0,0.45V1","symbolSize":180,"symbolFillColor":"#f2f2f2","symbolStrokeWidth":1,"rowPadding":0}}}},
        {"mark":{"type":"tick","color":"#4d4d4d","size":27,"thickness":2},"encoding":{"y":{"field":"med","type":"quantitative"}}}
       ]}
     ]}
   ]}
 ]},
 {"spacing":0,
  "hconcat":[
   {"width":1,"height":1,"data":{"values":[{}]},"mark":{"type":"point","size":0,"opacity":0}},
   {"spacing":18,
    "hconcat":[
     {"title":{"text":"C","anchor":"start","fontSize":18,"offset":-7},
      "hconcat":[
       {"width":218,"height":228,
        "title":{"text":"Net Phagocytosis","fontSize":13.5,"offset":4},
        "layer":[
         {"data":{"name":"phago"},"mark":{"type":"line","color":"#111111","strokeWidth":1},
          "encoding":{
           "x":{"field":"t","type":"nominal","scale":{"domain":["Td0","Td7"],"paddingInner":0,"paddingOuter":0},"axis":{"title":null,"labelFontSize":14,"labelPadding":4,"tickSize":5}},
           "y":{"field":"v","type":"quantitative","scale":{"domain":[0,200],"nice":false},"axis":{"title":"Relative Fluorescence","titleFontSize":14,"values":[0,50,100,150,200],"tickSize":5,"labelPadding":6,"labelFontSize":14,"titlePadding":7}},
           "detail":{"field":"id","type":"nominal"}}},
         {"data":{"name":"phago"},"mark":{"type":"circle","opacity":1,"size":70},
          "encoding":{"x":{"field":"t","type":"nominal"},"y":{"field":"v","type":"quantitative"},
           "color":{"field":"t","type":"nominal","scale":{"domain":["Td0","Td7"],"range":["#000000","#a8a8a8"]},"legend":null}}},
         {"data":{"values":[{}]},"mark":{"type":"rule","color":"#808080","strokeWidth":1.5},
          "encoding":{"x":{"datum":"Td0","type":"nominal","bandPosition":0.54},"x2":{"datum":"Td7"},"y":{"datum":183,"type":"quantitative"}}},
         {"data":{"values":[{}]},"mark":{"type":"text","text":"**","fontSize":13,"baseline":"middle","color":"#222222"},
          "encoding":{"x":{"datum":"Td0","type":"nominal","bandPosition":1},"y":{"datum":189,"type":"quantitative"}}}
        ]}
      ]},
     {"title":{"text":"D","anchor":"start","fontSize":18,"offset":16},
      "data":{"name":"cfu"},
      "spacing":20,
      "hconcat":[
       {"width":177,"height":235,
        "title":{"text":"24 hr","fontSize":13.5,"offset":-13},
        "transform":[{"filter":"datum.p == '24 hr'"}],
        "encoding":{"x":{"field":"t","type":"nominal","scale":{"domain":["Td0","Td6"],"paddingInner":0.33,"paddingOuter":0.2},"axis":{"title":null,"labelFontSize":14,"labelPadding":4,"tickSize":5}}},
        "layer":[
         {"mark":{"type":"rule","color":"#222222","strokeWidth":1},"encoding":{"y":{"field":"m","type":"quantitative","scale":{"domain":[0,2.132],"nice":false},"axis":{"title":["CFU/mL Normalized to","Monocyte Count"],"titleFontSize":13.5,"titleLineHeight":19,"values":[0,0.5,1,1.5,2],"format":".1f","domainDash":[220.5,40],"tickSize":5,"labelPadding":3,"titlePadding":5}},"y2":{"field":"hi"}}},
         {"mark":{"type":"tick","color":"#222222","size":37,"thickness":1},"encoding":{"y":{"field":"hi","type":"quantitative"}}},
         {"mark":{"type":"bar","stroke":"#111111","strokeWidth":1},"encoding":{"y":{"field":"m","type":"quantitative"},"fill":{"field":"t","type":"nominal","scale":{"domain":["Td0","Td6"],"range":["#565656","#b4b4b2"]},"legend":null}}}
        ]},
       {"width":177,"height":235,
        "title":{"text":"48 hr","fontSize":13.5,"offset":-13},
        "transform":[{"filter":"datum.p == '48 hr'"}],
        "encoding":{"x":{"field":"t","type":"nominal","scale":{"domain":["Td0","Td6"],"paddingInner":0.33,"paddingOuter":0.2},"axis":{"title":null,"labelFontSize":14,"labelPadding":4,"tickSize":5}}},
        "layer":[
         {"mark":{"type":"rule","color":"#222222","strokeWidth":1},"encoding":{"y":{"field":"m","type":"quantitative","scale":{"domain":[0,1.599],"nice":false},"axis":{"title":["CFU/mL Normalized to","Monocyte Count"],"titleFontSize":13.5,"titleLineHeight":19,"values":[0,0.5,1,1.5],"format":".1f","domainDash":[220.5,40],"tickSize":5,"labelPadding":3,"titlePadding":5}},"y2":{"field":"hi"}}},
         {"mark":{"type":"tick","color":"#222222","size":37,"thickness":1},"encoding":{"y":{"field":"hi","type":"quantitative"}}},
         {"mark":{"type":"bar","stroke":"#111111","strokeWidth":1},"encoding":{"y":{"field":"m","type":"quantitative"},"fill":{"field":"t","type":"nominal","scale":{"domain":["Td0","Td6"],"range":["#565656","#b4b4b2"]},"legend":null}}}
        ]}
      ]}
    ]}
  ]}
]
}
